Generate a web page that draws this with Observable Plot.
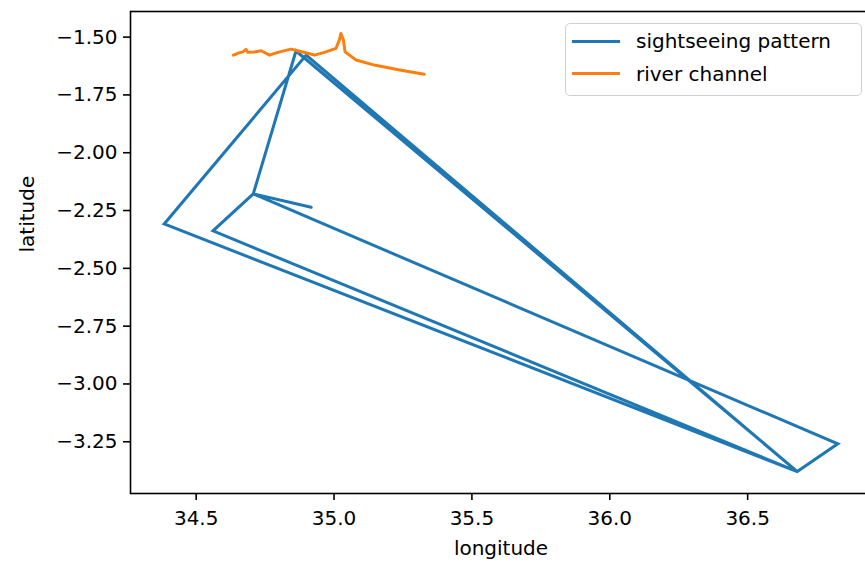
<!DOCTYPE html>
<html>
<head>
<meta charset="utf-8">
<script src="https://cdn.jsdelivr.net/npm/d3@7"></script>
<script src="https://cdn.jsdelivr.net/npm/@observablehq/plot@0.6"></script>
<style>
  html, body { margin: 0; padding: 0; background: #fff; overflow: hidden; }
  #wrap { position: relative; width: 865px; height: 565px; overflow: hidden; }
  #wrap svg { display: block; max-width: none !important; }
  .legend { position: absolute; left: 565px; top: 23px; width: 297px; height: 73px;
    border: 1.5px solid #d0d0d0; border-radius: 5px; background: rgba(255,255,255,0.8);
    box-sizing: border-box; font-family: "DejaVu Sans"; font-size: 20px; color: #000; }
  .legend .row { position: absolute; left: 0; height: 24px; display: flex; align-items: center; white-space: nowrap; }
  .legend .sw { width: 48px; height: 3px; margin-left: 6px; margin-right: 16px; }
</style>
</head>
<body>
<div id="wrap"></div>
<script>
// Series names and colours
const seriesNames = ["sightseeing pattern", "river channel"];
const seriesColors = ["#1f77b4", "#ff7f0e"];

// sightseeing pattern (blue)
const blueLon = [36.680, 34.899, 34.384, 36.680, 34.862, 34.707, 34.561, 36.680, 36.827, 34.707, 34.917];
const blueLat = [-3.379, -1.578, -2.308, -3.379, -1.560, -2.178, -2.338, -3.379, -3.259, -2.178, -2.236];

// river channel (orange)
const orangeLon = [34.635, 34.651, 34.669, 34.681, 34.687, 34.711, 34.736, 34.766, 34.796, 34.844, 34.868, 34.905, 34.929, 34.965, 35.007, 35.019, 35.025, 35.034, 35.040, 35.080, 35.146, 35.243, 35.327];
const orangeLat = [-1.578, -1.570, -1.564, -1.553, -1.566, -1.564, -1.559, -1.578, -1.566, -1.552, -1.559, -1.570, -1.578, -1.566, -1.549, -1.513, -1.484, -1.513, -1.564, -1.599, -1.621, -1.643, -1.661];

// tick values
const xTicks = [34.5, 35.0, 35.5, 36.0, 36.5];
const yTicks = [-1.50, -1.75, -2.00, -2.25, -2.50, -2.75, -3.00, -3.25];

const blue = blueLon.map((lon, i) => ({lon, lat: blueLat[i]}));
const orange = orangeLon.map((lon, i) => ({lon, lat: orangeLat[i]}));

// matplotlib-style 5% padding on data extent
const allLon = blueLon.concat(orangeLon), allLat = blueLat.concat(orangeLat);
function pad(ext) { const p = (ext[1] - ext[0]) * 0.05; return [ext[0] - p, ext[1] + p]; }
const xDomain = pad(d3.extent(allLon));
const yDomain = pad(d3.extent(allLat));

const chart = Plot.plot({
  width: 871,
  height: 565,
  marginLeft: 130,
  marginRight: 0,
  marginTop: 11,
  marginBottom: 72,
  style: { fontFamily: "DejaVu Sans", fontSize: "20px", color: "#000", background: "#fff", overflow: "visible", maxWidth: "none" },
  x: { domain: xDomain },
  y: { domain: yDomain },
  marks: [
    Plot.line(blue, { x: "lon", y: "lat", stroke: seriesColors[0], strokeWidth: 3, strokeLinejoin: "miter", strokeMiterlimit: 4 }),
    Plot.line(orange, { x: "lon", y: "lat", stroke: seriesColors[1], strokeWidth: 3 }),
    Plot.frame({ stroke: "#000", strokeWidth: 1.6 }),
    Plot.axisX(xTicks, { tickSize: 7, tickPadding: 10, tickFormat: d3.format(".1f"), label: null, strokeWidth: 1.6, fontSize: 20 }),
    Plot.axisY(yTicks, { tickSize: 7, tickPadding: 6, tickFormat: d3.format(".2f"), label: null, strokeWidth: 1.6, fontSize: 20 }),
    Plot.text(["longitude"], { frameAnchor: "bottom", dy: 55, lineAnchor: "middle", fontSize: 20 }),
    Plot.text(["latitude"], { frameAnchor: "left", dx: -103, rotate: -90, fontSize: 20 })
  ]
});

const wrap = document.getElementById("wrap");
wrap.appendChild(chart);

const legend = document.createElement("div");
legend.className = "legend";
seriesNames.forEach((name, i) => {
  const row = document.createElement("div");
  row.className = "row";
  row.style.top = (5 + i * 32.6) + "px";
  const sw = document.createElement("div");
  sw.className = "sw";
  sw.style.background = seriesColors[i];
  const t = document.createElement("span");
  t.textContent = name;
  row.appendChild(sw);
  row.appendChild(t);
  legend.appendChild(row);
});
wrap.appendChild(legend);
</script>
</body>
</html>
